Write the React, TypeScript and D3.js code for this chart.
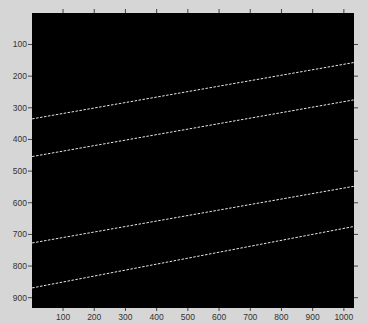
import React from 'react'
import * as d3 from 'd3'

// image extent (pixels) and the four detected lines, sampled at both image edges
const imageWidth = 1032
const imageHeight = 932
const xEnds = [1, 1032]
const line1 = [335, 157]
const line2 = [454, 275]
const line3 = [727, 548]
const line4 = [869, 675]
const lines = [line1, line2, line3, line4]
const xTicks = [100, 200, 300, 400, 500, 600, 700, 800, 900, 1000]
const yTicks = [100, 200, 300, 400, 500, 600, 700, 800, 900]

export default function App() {
  const width = 368
  const height = 323
  const left = 32, top = 13, right = 354, bottom = 308

  const x = d3.scaleLinear().domain([0.5, imageWidth + 0.5]).range([left, right])
  const y = d3.scaleLinear().domain([0.5, imageHeight + 0.5]).range([top, bottom])

  const lineGen = d3.line<number>()
    .x((d, i) => x(xEnds[i]))
    .y(d => y(d))

  const tickColor = '#444'
  const font = 'Liberation Sans, Arial, sans-serif'

  return (
    <svg width={width} height={height}
      style={{ position: 'absolute', left: 0, top: 0, display: 'block', background: '#d6d6d6' }}>
      <rect x={left} y={top} width={right - left} height={bottom - top} fill="#000" />
      {lines.map((l, i) => (
        <path key={i} d={lineGen(l) || ''} fill="none" stroke="#e8e8e8"
          strokeWidth={1} strokeDasharray="2.5,1.5" />
      ))}
      {xTicks.map(t => (
        <g key={'x' + t}>
          <line x1={x(t)} x2={x(t)} y1={top} y2={top - 4} stroke={tickColor} />
          <line x1={x(t)} x2={x(t)} y1={bottom} y2={bottom + 3} stroke={tickColor} />
          <text x={x(t)} y={bottom + 12} textAnchor="middle" fontSize={8.5}
            fontFamily={font} fill="#333">{t}</text>
        </g>
      ))}
      {yTicks.map(t => (
        <g key={'y' + t}>
          <line x1={left} x2={left - 4} y1={y(t)} y2={y(t)} stroke={tickColor} />
          <line x1={right} x2={right + 4} y1={y(t)} y2={y(t)} stroke={tickColor} />
          <text x={left - 5} y={y(t)} dy="0.35em" textAnchor="end" fontSize={8.5}
            fontFamily={font} fill="#333">{t}</text>
        </g>
      ))}
    </svg>
  )
}
